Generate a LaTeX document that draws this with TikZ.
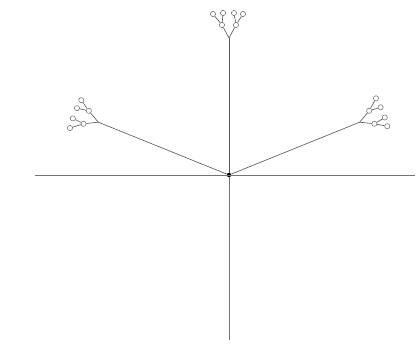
\documentclass[tikz,border=0pt]{standalone}
\usetikzlibrary{positioning}
\begin{document}
\begin{tikzpicture}[x=0.025cm, y=0.025cm,
    axis/.style={draw=black!55, line width=0.5pt},
    branch/.style={draw=black!65, line width=0.45pt},
    knot/.style={circle, draw=black!60, line width=0.35pt, inner sep=0pt, minimum size=0.13cm},
    hub/.style={circle, fill=black, inner sep=0pt, minimum size=0.11cm}]
  \useasboundingbox (-229,-175) rectangle (187,175);
  % axes
  \node[hub] (hub) at (0,0) {};
  \coordinate (west) at (-194,0);
  \coordinate (east) at (186,0);
  \coordinate (south) at (0,-165);
  \draw[axis] (west) -- (east);
  \draw[axis] (hub) -- (south);
  % three small trees
  \foreach \ang/\len/\nm in {90/137/up, 158/141/left, 22/141/right}{
    \begin{scope}[rotate=\ang-90]
      \coordinate (\nm-root) at (0,\len);
      \node[knot] (\nm-a) at (-7,\len+13) {};
      \node[knot] (\nm-b) at (7,\len+13) {};
      \node[knot] (\nm-a1) at (-16,\len+24) {};
      \node[knot] (\nm-a2) at (-6,\len+25) {};
      \node[knot] (\nm-b1) at (5,\len+25) {};
      \node[knot] (\nm-b2) at (14,\len+24) {};
      \draw[branch] (hub) -- (\nm-root);
      \draw[branch] (\nm-root) -- (\nm-a);
      \draw[branch] (\nm-root) -- (\nm-b);
      \draw[branch] (\nm-a) -- (\nm-a1);
      \draw[branch] (\nm-a) -- (\nm-a2);
      \draw[branch] (\nm-b) -- (\nm-b1);
      \draw[branch] (\nm-b) -- (\nm-b2);
    \end{scope}
  }
\end{tikzpicture}
\end{document}
